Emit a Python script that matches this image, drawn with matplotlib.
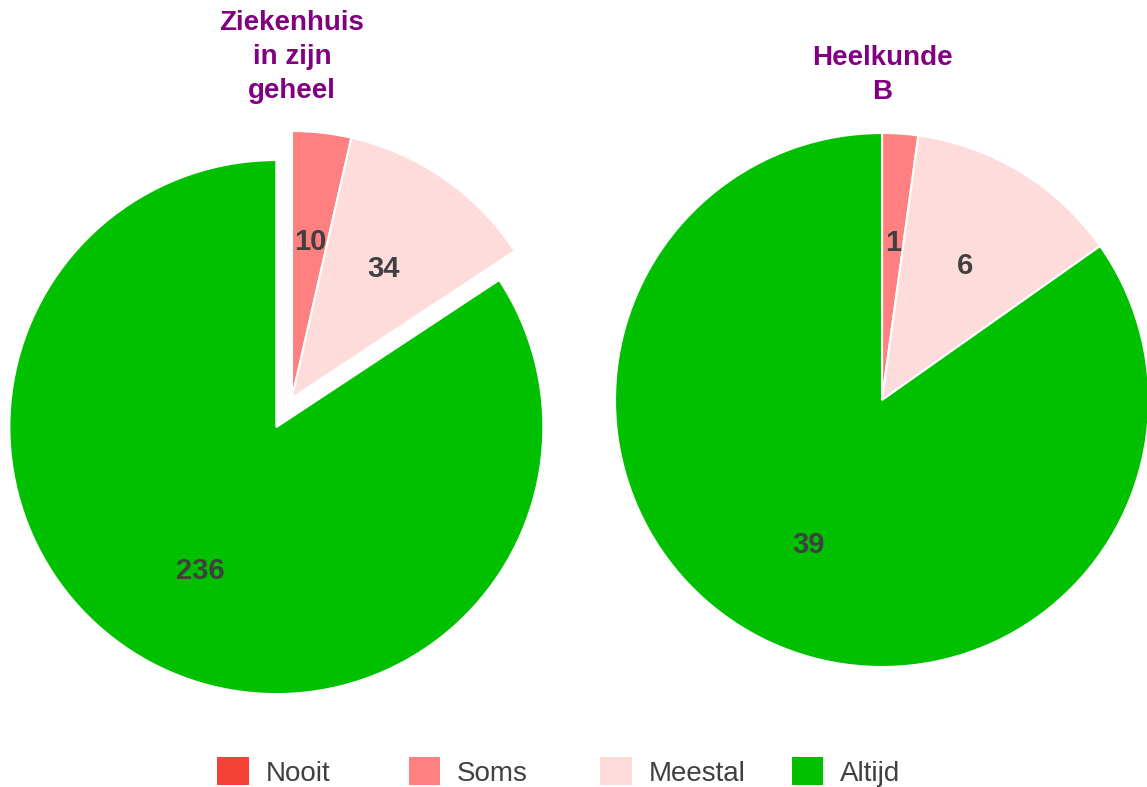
import matplotlib.pyplot as plt
from matplotlib.patches import Patch

plt.rcParams['font.family'] = ['Liberation Sans', 'DejaVu Sans']

# data
categories = ['Nooit', 'Soms', 'Meestal', 'Altijd']
colors = ['#F44336', '#FF8080', '#FFDCDC', '#00C000']
titles = ['Ziekenhuis\nin zijn\ngeheel', 'Heelkunde\nB']
values_ziekenhuis = [0, 10, 34, 236]
values_heelkunde = [0, 1, 6, 39]

W, H = 1147, 787
fig = plt.figure(figsize=(W / 100, H / 100), dpi=100)
ax = fig.add_axes([0, 0, 1, 1])
ax.set_xlim(0, W)
ax.set_ylim(0, H)
ax.set_aspect('equal')
ax.axis('off')


def draw_pie(values, center, radius, explode, title, title_top):
    labels = [str(v) if v else '' for v in values]
    ax.pie(values, labels=labels, colors=colors, explode=explode,
           startangle=90, counterclock=False, center=center, radius=radius,
           labeldistance=0.6, frame=True,
           wedgeprops=dict(edgecolor='white', linewidth=1.5),
           textprops=dict(fontsize=21, fontweight='bold', color='#404040',
                          ha='center', va='center_baseline'))
    ax.text(center[0], title_top, title, ha='center', va='top',
            fontsize=20, fontweight='bold', color='#800080', linespacing=1.4)


# explode is in data units here (pixels)
draw_pie(values_ziekenhuis, (292, 389), 267, [0, 0, 0, 33], titles[0], 777)
draw_pie(values_heelkunde, (882, 387), 267, None, titles[1], 742)

ax.set_xlim(0, W)
ax.set_ylim(0, H)
ax.axis('off')

# one legend per entry so the items sit at an even step like the original
for i, (cat, c) in enumerate(zip(categories, colors)):
    fig.legend([Patch(facecolor=c, edgecolor='none')], [cat],
               loc='center left', bbox_to_anchor=((217 + 191.5 * i) / W, 1 - 772 / H),
               frameon=False, fontsize=20, labelcolor='#404040',
               borderpad=0, borderaxespad=0,
               handlelength=1.15, handleheight=1.15, handletextpad=0.6)

fig.savefig('out.png', dpi=100)
